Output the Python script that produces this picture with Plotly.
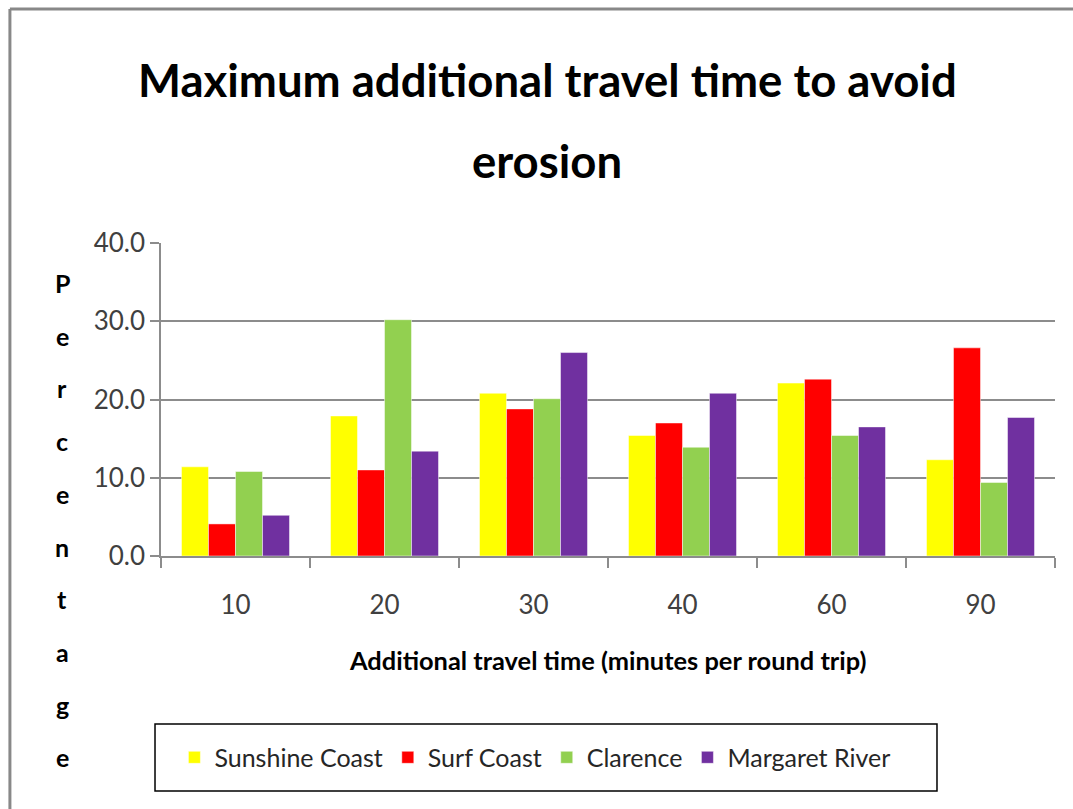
import plotly.graph_objects as go

# Additional travel time categories (minutes per round trip)
categories = ["10", "20", "30", "40", "60", "90"]

# Percentage of respondents per region
sunshine_coast = [11.4, 17.9, 20.8, 15.4, 22.1, 12.3]
surf_coast = [4.1, 11.0, 18.8, 17.0, 22.6, 26.6]
clarence = [10.8, 30.2, 20.1, 13.9, 15.4, 9.4]
margaret_river = [5.2, 13.4, 26.0, 20.8, 16.5, 17.7]

series_names = ["Sunshine Coast", "Surf Coast", "Clarence", "Margaret River"]
series_values = [sunshine_coast, surf_coast, clarence, margaret_river]
series_colors = ["#FFFF00", "#FF0000", "#92D050", "#7030A0"]

y_ticks = [0, 10, 20, 30, 40]
y_tick_text = ["0.0", "10.0", "20.0", "30.0", "40.0"]

FONT = "Lato, Open Sans, sans-serif"
GRID = "#8c8c8c"

fig = go.Figure()
for name, vals, color in zip(series_names, series_values, series_colors):
    fig.add_trace(go.Bar(
        x=categories, y=vals, name=name,
        marker=dict(color=color, line=dict(color="rgba(255,255,255,0.6)", width=0.8)),
    ))

fig.update_layout(
    width=1073, height=809,
    margin=dict(l=161, r=18, t=243, b=253),
    paper_bgcolor="white", plot_bgcolor="white",
    barmode="group", bargap=0.275, bargroupgap=0,
    font=dict(family=FONT, color="#404040"),
    showlegend=True,
    legend=dict(
        orientation="h", x=0.015, y=-0.644, xanchor="left", yanchor="middle",
        borderwidth=0, bgcolor="rgba(0,0,0,0)",
        font=dict(family=FONT, size=25, color="#262626"),
        itemwidth=30, traceorder="normal",
    ),
)

fig.update_xaxes(
    type="category", showline=True, linecolor=GRID, linewidth=1.5,
    ticks="outside", tickson="boundaries", ticklen=10, tickcolor=GRID, tickwidth=1.5,
    tickfont=dict(family=FONT, size=26, color="#404040"),
    ticklabelstandoff=25, showgrid=False,
)
fig.update_yaxes(
    range=[0, 40], tickvals=y_ticks, ticktext=y_tick_text,
    showline=True, linecolor=GRID, linewidth=1.5,
    ticks="outside", ticklen=9, tickcolor=GRID, tickwidth=1.5,
    showgrid=True, gridcolor=GRID, gridwidth=1.5, zeroline=False,
    tickfont=dict(family=FONT, size=26, color="#404040"),
)

annotations = []
# Chart title, two lines
annotations.append(dict(text="<b>Maximum additional travel time to avoid</b>",
                        x=0.432, y=1.521, xref="paper", yref="paper",
                        xanchor="center", yanchor="middle", showarrow=False,
                        font=dict(family=FONT, size=45.5, color="#000000")))
annotations.append(dict(text="<b>erosion</b>",
                        x=0.432, y=1.265, xref="paper", yref="paper",
                        xanchor="center", yanchor="middle", showarrow=False,
                        font=dict(family=FONT, size=45.5, color="#000000")))
# X axis title
annotations.append(dict(text="<b>Additional travel time (minutes per round trip)</b>",
                        x=0.499, y=-0.332, xref="paper", yref="paper",
                        xanchor="center", yanchor="middle", showarrow=False,
                        font=dict(family=FONT, size=25.4, color="#000000")))
# Y axis title, stacked letters
for i, ch in enumerate("Percentage"):
    py = 283 + 52.7 * i
    annotations.append(dict(text=f"<b>{ch}</b>",
                            x=-0.1107, y=(556 - py) / 313, xref="paper", yref="paper",
                            xanchor="center", yanchor="middle", showarrow=False,
                            font=dict(family=FONT, size=25, color="#000000")))
fig.update_layout(annotations=annotations)

# Legend frame
fig.add_shape(type="rect", xref="paper", yref="paper",
              x0=-0.0067, x1=0.868, y0=-0.537, y1=-0.751,
              line=dict(color="#000000", width=1.5), fillcolor="rgba(0,0,0,0)")

# Chart frame (left and top edges)
fig.add_shape(type="line", xref="paper", yref="paper",
              x0=-0.169, x1=-0.169, y0=1.748, y1=-0.9,
              line=dict(color="#888888", width=3))
fig.add_shape(type="line", xref="paper", yref="paper",
              x0=-0.169, x1=1.05, y0=1.748, y1=1.748,
              line=dict(color="#888888", width=3))

fig.write_html("out.html")
